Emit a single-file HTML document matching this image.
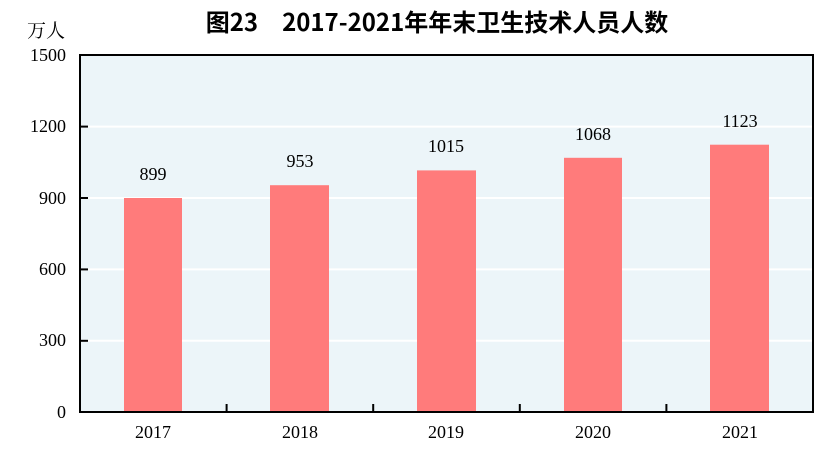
<!DOCTYPE html>
<html><head><meta charset="utf-8"><style>body{margin:0;background:#fff}</style></head><body>
<svg width="831" height="456" xmlns="http://www.w3.org/2000/svg">
<text x="437" y="31" text-anchor="middle" font-family="'Noto Sans CJK SC',sans-serif" font-size="24" font-weight="bold" fill="#000">图23　2017-2021年年末卫生技术人员人数</text>
<text x="27" y="37" font-family="'Noto Serif CJK SC',serif" font-size="19" fill="#000">万人</text>
<rect x="80" y="55" width="733" height="357" fill="#ecf5f9"/>
<g stroke="#fff" stroke-width="2">
<line x1="80" x2="813" y1="126.6" y2="126.6"/><line x1="80" x2="813" y1="198" y2="198"/>
<line x1="80" x2="813" y1="269.4" y2="269.4"/><line x1="80" x2="813" y1="340.8" y2="340.8"/>
</g>
<g fill="#ff7b7b">
<rect x="124" y="198" width="58" height="214"/>
<rect x="270" y="185.2" width="59" height="226.8"/>
<rect x="417" y="170.4" width="59" height="241.6"/>
<rect x="564" y="157.8" width="58" height="254.2"/>
<rect x="710" y="144.7" width="59" height="267.3"/>
</g>
<rect x="80" y="55" width="733" height="357" fill="none" stroke="#000" stroke-width="2"/>
<g stroke="#000" stroke-width="2">
<line x1="80" x2="88" y1="126.6" y2="126.6"/><line x1="80" x2="88" y1="198" y2="198"/>
<line x1="80" x2="88" y1="269.4" y2="269.4"/><line x1="80" x2="88" y1="340.8" y2="340.8"/>
<line x1="226.6" x2="226.6" y1="412" y2="404"/><line x1="373.2" x2="373.2" y1="412" y2="404"/>
<line x1="519.8" x2="519.8" y1="412" y2="404"/><line x1="666.4" x2="666.4" y1="412" y2="404"/>
</g>
<g font-family="'Liberation Serif',serif" font-size="18" fill="#000" text-anchor="end">
<text x="66" y="61">1500</text><text x="66" y="132">1200</text><text x="66" y="204">900</text>
<text x="66" y="275">600</text><text x="66" y="346">300</text><text x="66" y="418">0</text>
</g>
<g font-family="'Liberation Serif',serif" font-size="18" fill="#000" text-anchor="middle">
<text x="153" y="180">899</text><text x="300" y="167">953</text><text x="446" y="152">1015</text>
<text x="593" y="140">1068</text><text x="740" y="127">1123</text>
<text x="153" y="438">2017</text><text x="300" y="438">2018</text><text x="446" y="438">2019</text>
<text x="593" y="438">2020</text><text x="740" y="438">2021</text>
</g>
</svg>
</body></html>
